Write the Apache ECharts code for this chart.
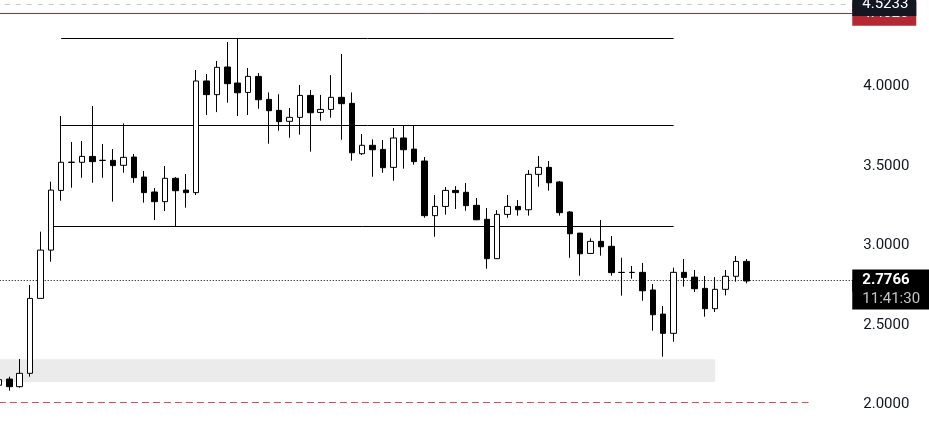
<!DOCTYPE html>
<html><head><meta charset="utf-8">
<script src="https://cdn.jsdelivr.net/npm/echarts@6/dist/echarts.min.js"></script>
<style>html,body{margin:0;padding:0;background:#fff}#c{width:929px;height:448px}</style>
</head><body><div id="c"></div>
<script>
const opens  = [2.120,2.159,2.111,2.195,2.667,2.971,3.347,3.523,3.524,3.561,3.535,3.536,3.505,3.557,3.431,3.337,3.276,3.423,3.349,3.333,
                4.036,3.950,4.124,4.023,3.964,4.065,3.920,3.851,3.782,3.807,3.945,3.838,3.857,3.933,3.895,3.578,3.631,3.605,3.492,3.677,
                3.607,3.532,3.188,3.246,3.347,3.335,3.253,3.165,2.917,3.196,3.246,3.225,3.448,3.492,3.400,3.211,3.078,2.950,3.026,2.995,
                2.831,2.830,2.831,2.720,2.568,2.447,2.831,2.801,2.730,2.602,2.724,2.806,2.900];
const closes = [2.155,2.111,2.195,2.667,2.971,3.349,3.524,3.525,3.561,3.528,3.537,3.503,3.555,3.427,3.333,3.276,3.423,3.345,3.333,4.036,
                3.950,4.122,4.019,3.962,4.065,3.918,3.849,3.780,3.807,3.945,3.836,3.857,3.933,3.893,3.584,3.631,3.603,3.490,3.677,3.603,
                3.528,3.188,3.246,3.347,3.333,3.251,3.162,2.917,3.196,3.246,3.225,3.448,3.492,3.395,3.207,3.074,2.948,3.026,2.992,2.829,
                2.830,2.831,2.715,2.564,2.447,2.831,2.799,2.728,2.602,2.724,2.806,2.900,2.7766];
const lows   = [2.115,2.086,2.105,2.174,2.667,2.898,3.282,3.364,3.427,3.395,3.427,3.276,3.458,3.395,3.270,3.160,3.217,3.120,3.238,3.318,
                3.822,3.840,3.899,3.815,3.822,3.861,3.641,3.723,3.679,3.698,3.591,3.786,3.805,3.666,3.534,3.570,3.433,3.458,3.408,3.484,
                3.509,3.175,3.055,3.194,3.230,3.219,3.160,2.854,2.915,3.175,3.188,3.188,3.370,3.345,3.188,2.923,2.810,2.948,2.936,2.810,
                2.684,2.791,2.652,2.463,2.300,2.394,2.741,2.707,2.552,2.581,2.686,2.772,2.762];
const highs  = [2.160,2.174,2.285,2.751,3.087,3.402,3.815,3.652,3.658,3.878,3.639,3.607,3.769,3.576,3.469,3.362,3.500,3.431,3.450,4.105,
                4.080,4.162,4.281,4.304,4.118,4.086,3.964,3.952,3.866,4.011,3.979,3.948,4.073,4.206,3.964,3.702,3.668,3.664,3.740,3.757,
                3.757,3.557,3.318,3.368,3.374,3.393,3.299,3.236,3.223,3.318,3.286,3.475,3.563,3.532,3.406,3.217,3.080,3.045,3.160,3.060,
                2.923,2.871,2.890,2.757,2.619,2.860,2.915,2.846,2.808,2.801,2.846,2.934,2.915];
const emptySlots = 10;
const categories = Array.from({length: opens.length + emptySlots}, (_, i) => String(i));

const lastPrice = 2.7766;
const countdown = '11:41:30';
const highPrice = 4.5233;
const redLevel = 4.4620;
const lowDashLevel = 2.016;
// [price, from candle index, to candle index]
const levelLines = [[4.305, 6, 65], [3.757, 6, 65], [3.121, 5, 65]];
const lowDashRange = [0, 78];
// [upper price, lower price, from index, to index]
const zone = [2.283, 2.140, 0, 69];
const yTickMin = 1.5, yTickMax = 5.0, yTickStep = 0.5;

const FONT = 'Roboto, "Noto Sans", sans-serif';
const candleData = opens.map((o, i) => [o, closes[i], lows[i], highs[i]]);

const boxLabel = (text, bg, extra) => Object.assign({
  show: true, position: 'end', distance: -3, formatter: () => text,
  color: '#ffffff', fontSize: 15, fontFamily: FONT, backgroundColor: bg,
  padding: [3, 8, 3, 10], lineHeight: 18, width: 46, align: 'left', verticalAlign: 'middle'
}, extra || {});

const markData = [];
levelLines.forEach(([p, a, b]) => {
  markData.push([{coord: [a, p], lineStyle: {color: '#000', width: 1, type: 'solid'}, label: {show: false}}, {coord: [b, p]}]);
});
markData.push([{coord: [lowDashRange[0], lowDashLevel], lineStyle: {color: '#e84855', width: 1, type: [7, 4]}, label: {show: false}},
               {coord: [lowDashRange[1], lowDashLevel]}]);
markData.push({yAxis: redLevel, lineStyle: {color: '#b22833', width: 1, type: 'solid'},
               label: boxLabel(redLevel.toFixed(4), '#b22833')});
markData.push({yAxis: highPrice, lineStyle: {color: '#c8c8c8', width: 1, type: [5, 6]},
               label: boxLabel(highPrice.toFixed(4), '#131722')});
markData.push({yAxis: lastPrice, lineStyle: {color: 'rgba(0,0,0,0)', width: 1, opacity: 1},
               label: boxLabel(countdown, '#000', {color: '#c4c4c4', opacity: 1, padding: [10, 10, 1, 10], width: 60, verticalAlign: 'top'})});
markData.push({yAxis: lastPrice, lineStyle: {color: '#000', width: 1, type: [1, 2]},
               label: boxLabel(lastPrice.toFixed(4), '#000', {fontWeight: 'bold', padding: [3, 10, 1, 10], width: 60})});

const chart = echarts.init(document.getElementById('c'), null, {renderer: 'canvas'});
chart.setOption({
  animation: false,
  backgroundColor: '#ffffff',
  grid: {left: -6.27, right: 73.73, top: -72.1, bottom: -35.7, containLabel: false, outerBoundsMode: 'none'},
  xAxis: {type: 'category', data: categories, show: false, boundaryGap: true},
  yAxis: {
    type: 'value', position: 'right', min: yTickMin, max: yTickMax, interval: yTickStep,
    splitLine: {show: false}, axisLine: {show: false}, axisTick: {show: false},
    axisLabel: {margin: 8, fontSize: 15, color: '#131722', fontFamily: FONT,
      formatter: v => (v >= 1.9 && v <= 4.1) ? v.toFixed(4) : ''}
  },
  series: [{
    type: 'candlestick',
    data: candleData,
    barWidth: 6,
    clip: false,
    z: 2,
    itemStyle: {color: '#ffffff', color0: '#000000', borderColor: '#000000', borderColor0: '#000000',
                borderColorDoji: '#000000', borderWidth: 1},
    markArea: {
      silent: true, z: 0,
      itemStyle: {color: '#ebebeb'},
      data: [[{coord: [zone[2], zone[0]]}, {coord: [zone[3], zone[1]]}]]
    },
    markLine: {
      silent: true, z: 1, animation: false, symbol: ['none', 'none'],
      data: markData
    }
  }]
});
</script></body></html>
